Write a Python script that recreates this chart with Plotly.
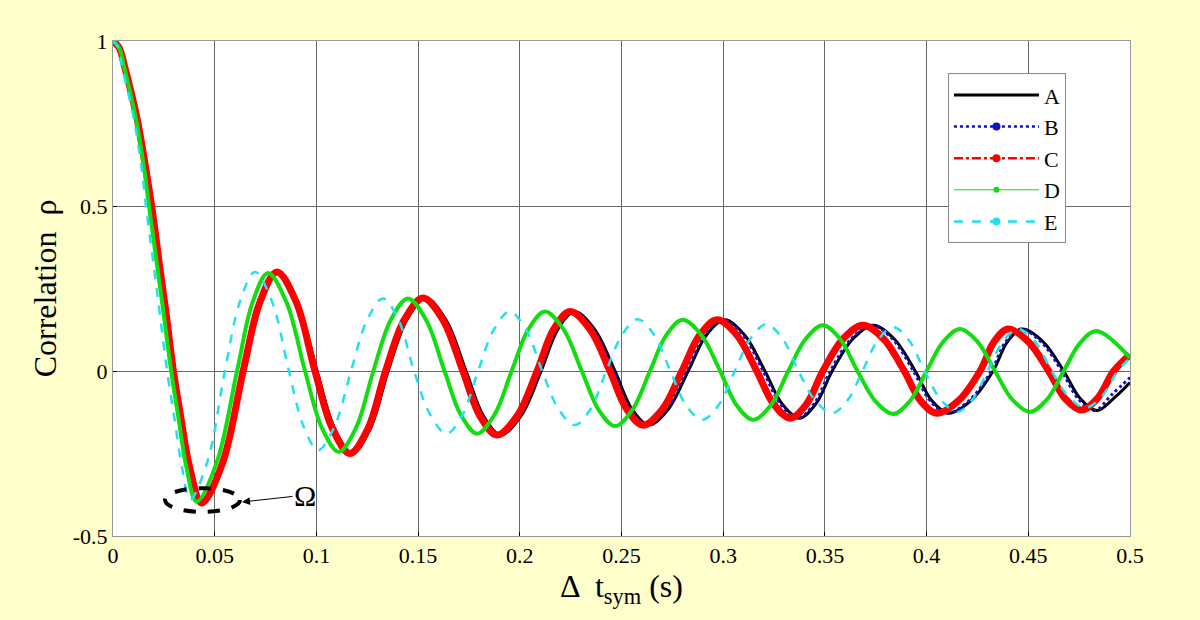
import plotly.graph_objects as go

# ---------------- data ----------------
x_C = [0, 0.003, 0.0059, 0.0118, 0.0162, 0.019, 0.0231, 0.0264, 0.0297, 0.0334, 0.0378,
       0.0436, 0.0538, 0.064, 0.0723, 0.0806, 0.09, 0.0993, 0.1079, 0.1165, 0.1253, 0.134,
       0.1432, 0.1524, 0.1622, 0.172, 0.1804, 0.1888, 0.1987, 0.2085, 0.2166, 0.2247,
       0.2345, 0.2443, 0.2525, 0.2606, 0.2702, 0.2797, 0.2884, 0.297, 0.3068, 0.3165,
       0.3248, 0.333, 0.341, 0.349, 0.3589, 0.3687, 0.3789, 0.389, 0.397, 0.405, 0.4157,
       0.4263, 0.4332, 0.440, 0.45, 0.460, 0.468, 0.476, 0.484, 0.492, 0.5]
y_C = [1, 0.98, 0.918, 0.766, 0.61, 0.5, 0.31, 0.16, 0, -0.143, -0.295,
       -0.40, -0.28, 0, 0.21, 0.30, 0.21, 0, -0.175, -0.25, -0.175, 0,
       0.155, 0.221, 0.155, 0, -0.136, -0.194, -0.136, 0, 0.126, 0.18,
       0.126, 0, -0.115, -0.164, -0.115, 0, 0.1085, 0.155, 0.1085, 0,
       -0.10, -0.143, -0.10, 0, 0.097, 0.139, 0.097, 0, -0.09, -0.128, -0.09,
       0, 0.089, 0.127, 0.089, 0, -0.083, -0.118, -0.083, 0, 0.05]

x_B = [0, 0.003, 0.0059, 0.0118, 0.0162, 0.019, 0.0231, 0.0264, 0.0297, 0.0334, 0.0378,
       0.0436, 0.0538, 0.064, 0.0726, 0.0811, 0.0905, 0.1003, 0.1089, 0.1175, 0.1263, 0.135,
       0.1442, 0.1534, 0.1634, 0.1732, 0.1817, 0.1902, 0.2001, 0.21, 0.2182, 0.2263,
       0.2362, 0.2462, 0.2545, 0.2627, 0.2724, 0.282, 0.2909, 0.2998, 0.3097, 0.3196,
       0.3281, 0.3365, 0.3446, 0.3527, 0.3628, 0.3729, 0.3832, 0.3935, 0.4017, 0.41, 0.4209,
       0.4318, 0.4389, 0.446, 0.4562, 0.4664, 0.4745, 0.4826, 0.4913, 0.5]
y_B = [1, 0.98, 0.918, 0.766, 0.61, 0.5, 0.31, 0.16, 0, -0.143, -0.295,
       -0.40, -0.28, 0, 0.21, 0.30, 0.21, 0, -0.175, -0.25, -0.175, 0,
       0.155, 0.221, 0.155, 0, -0.136, -0.194, -0.136, 0, 0.126, 0.18,
       0.126, 0, -0.115, -0.164, -0.115, 0, 0.1085, 0.155, 0.1085, 0,
       -0.10, -0.143, -0.10, 0, 0.097, 0.139, 0.097, 0, -0.09, -0.128, -0.09,
       0, 0.089, 0.127, 0.089, 0, -0.084, -0.12, -0.07, -0.02]

x_A = [0, 0.003, 0.0059, 0.0118, 0.0162, 0.019, 0.0231, 0.0264, 0.0297, 0.0334, 0.0378,
       0.0436, 0.0538, 0.064, 0.0726, 0.0811, 0.0905, 0.1003, 0.109, 0.1177, 0.1265, 0.1353,
       0.1445, 0.1537, 0.1637, 0.1736, 0.1821, 0.1906, 0.2006, 0.2105, 0.2187, 0.2268,
       0.2368, 0.2468, 0.2551, 0.2634, 0.2731, 0.2828, 0.2917, 0.3006, 0.3106, 0.3205,
       0.329, 0.3374, 0.3455, 0.3536, 0.3637, 0.3738, 0.3841, 0.3944, 0.4026, 0.4109, 0.4218,
       0.4327, 0.4398, 0.447, 0.4572, 0.4674, 0.4756, 0.4838, 0.4925, 0.5]
y_A = [1, 0.98, 0.918, 0.766, 0.61, 0.5, 0.31, 0.16, 0, -0.143, -0.295,
       -0.40, -0.28, 0, 0.21, 0.30, 0.21, 0, -0.175, -0.25, -0.175, 0,
       0.155, 0.221, 0.155, 0, -0.136, -0.194, -0.136, 0, 0.126, 0.18,
       0.126, 0, -0.115, -0.164, -0.115, 0, 0.1085, 0.155, 0.1085, 0,
       -0.10, -0.143, -0.10, 0, 0.097, 0.139, 0.097, 0, -0.09, -0.128, -0.09,
       0, 0.089, 0.127, 0.089, 0, -0.084, -0.12, -0.08, -0.035]

x_D = [0, 0.003, 0.0056, 0.0112, 0.0154, 0.0177, 0.0219, 0.0252, 0.0286, 0.0322, 0.0362,
       0.0411, 0.051, 0.061, 0.0686, 0.0762, 0.0853, 0.0944, 0.1027, 0.111, 0.1195, 0.128,
       0.1365, 0.145, 0.154, 0.163, 0.171, 0.179, 0.1875, 0.196, 0.2042, 0.2124, 0.2215,
       0.2305, 0.2387, 0.2468, 0.2554, 0.264, 0.272, 0.280, 0.2893, 0.2985, 0.3066, 0.3147,
       0.3234, 0.332, 0.3405, 0.349, 0.3575, 0.366, 0.3748, 0.3836, 0.3918, 0.4, 0.4082,
       0.4164, 0.425, 0.4336, 0.4422, 0.4508, 0.4591, 0.4674, 0.4755, 0.4835, 0.5]
y_D = [1, 0.98, 0.918, 0.766, 0.61, 0.5, 0.31, 0.16, 0, -0.143, -0.295,
       -0.396, -0.277, 0, 0.208, 0.297, 0.208, 0, -0.172, -0.245, -0.172, 0,
       0.154, 0.22, 0.154, 0, -0.133, -0.19, -0.133, 0, 0.126, 0.18, 0.126,
       0, -0.117, -0.167, -0.117, 0, 0.1085, 0.155, 0.1085, 0, -0.104, -0.148,
       -0.104, 0, 0.097, 0.139, 0.097, 0, -0.091, -0.13, -0.091, 0, 0.089,
       0.127, 0.089, 0, -0.087, -0.124, -0.087, 0, 0.085, 0.121, 0.04]

x_E = [0, 0.0025, 0.0046, 0.0102, 0.0142, 0.0162, 0.0202, 0.0233, 0.0266, 0.0302, 0.034,
       0.0379, 0.0465, 0.055, 0.0624, 0.0698, 0.0782, 0.0865, 0.0937, 0.1008, 0.1089, 0.117,
       0.1249, 0.1327, 0.1404, 0.148, 0.156, 0.164, 0.1718, 0.1795, 0.1873, 0.195, 0.203,
       0.211, 0.219, 0.227, 0.2348, 0.2425, 0.2503, 0.258, 0.266, 0.274, 0.2818, 0.2896,
       0.2977, 0.3057, 0.3135, 0.3212, 0.3291, 0.337, 0.3453, 0.3535, 0.361, 0.3685, 0.376,
       0.3835, 0.3913, 0.399, 0.407, 0.415, 0.4225, 0.43, 0.4375, 0.445, 0.4533, 0.4615,
       0.4698, 0.478, 0.486, 0.494, 0.5]
y_E = [1, 0.98, 0.918, 0.766, 0.61, 0.5, 0.31, 0.16, 0, -0.143, -0.295,
       -0.39, -0.273, 0, 0.21, 0.30, 0.21, 0, -0.168, -0.24, -0.168, 0,
       0.154, 0.22, 0.154, 0, -0.133, -0.19, -0.133, 0, 0.126, 0.18, 0.126,
       0, -0.115, -0.164, -0.115, 0, 0.11, 0.157, 0.11, 0, -0.104, -0.148,
       -0.104, 0, 0.099, 0.142, 0.099, 0, -0.09, -0.128, -0.09, 0, 0.093,
       0.133, 0.093, 0, -0.087, -0.124, -0.087, 0, 0.089, 0.127, 0.089, 0,
       -0.078, -0.112, -0.078, 0, 0.04]

names = ["A", "B", "C", "D", "E"]
x_ticks = [0, 0.05, 0.1, 0.15, 0.2, 0.25, 0.3, 0.35, 0.4, 0.45, 0.5]
x_tick_labels = ["0", "0.05", "0.1", "0.15", "0.2", "0.25", "0.3", "0.35", "0.4", "0.45", "0.5"]
y_ticks = [-0.5, 0, 0.5, 1]
y_tick_labels = ["-0.5", "0", "0.5", "1"]

# annotation region (ellipse around first minimum) and label
ellipse_x = [0.0256, 0.0624]
ellipse_y = [-0.427, -0.355]
omega_tip = (0.0634, -0.397)
omega_text = (0.0944, -0.376)

SERIF = "Liberation Serif"

fig = go.Figure()

data_styles = [
    (x_A, y_A, dict(color="black", width=3, dash="solid")),
    (x_B, y_B, dict(color="#1010d0", width=3, dash="dot")),
    (x_C, y_C, dict(color="#ff0000", width=7, dash="solid")),
    (x_D, y_D, dict(color="#11dd11", width=4, dash="solid")),
    (x_E, y_E, dict(color="#22e0ee", width=2.5, dash="dash")),
]
for (xs, ys, ln) in data_styles:
    fig.add_trace(go.Scatter(x=xs, y=ys, mode="lines", showlegend=False,
                             line=dict(shape="spline", smoothing=1.0, **ln),
                             hoverinfo="skip"))

legend_styles = [
    ("lines", dict(color="black", width=3, dash="solid"), None),
    ("lines+markers", dict(color="#1010d0", width=2.5, dash="dot"), dict(color="#1010d0", size=8)),
    ("lines+markers", dict(color="#ff0000", width=2.5, dash="dashdot"), dict(color="#ff0000", size=8)),
    ("lines+markers", dict(color="#11dd11", width=1, dash="solid"), dict(color="#11dd11", size=6)),
    ("lines+markers", dict(color="#22e0ee", width=2.5, dash="dash"), dict(color="#22e0ee", size=8)),
]
for name, (mode, ln, mk) in zip(names, legend_styles):
    kw = dict(x=[None], y=[None], mode=mode, name=name, line=ln, showlegend=True)
    if mk is not None:
        kw["marker"] = mk
    fig.add_trace(go.Scatter(**kw))

fig.add_shape(type="circle", xref="x", yref="y",
              x0=ellipse_x[0], x1=ellipse_x[1], y0=ellipse_y[0], y1=ellipse_y[1],
              line=dict(color="black", width=4, dash="dash"))
fig.add_annotation(x=omega_tip[0], y=omega_tip[1], ax=omega_text[0], ay=omega_text[1],
                   axref="x", ayref="y", xref="x", yref="y",
                   text="Ω", showarrow=True, arrowhead=2, arrowsize=1.6,
                   arrowwidth=1, arrowcolor="black",
                   font=dict(family=SERIF, size=30, color="black"))

axis_common = dict(showgrid=True, gridcolor="#666666", gridwidth=1,
                   showline=True, linecolor="#999999", linewidth=1, mirror=True,
                   ticks="inside", ticklen=4, tickcolor="black",
                   zeroline=False, automargin=False,
                   tickfont=dict(family=SERIF, size=22, color="black"))

fig.update_layout(
    width=1200, height=620,
    paper_bgcolor="#ffffcc", plot_bgcolor="white",
    margin=dict(l=113, r=70, t=41, b=84),
    font=dict(family=SERIF),
    xaxis=dict(range=[0, 0.5], tickvals=x_ticks, ticktext=x_tick_labels,
               title=dict(text="Δ  t<sub>sym</sub> (s)", standoff=0,
                          font=dict(family=SERIF, size=32, color="black")),
               **axis_common),
    yaxis=dict(range=[-0.5, 1], tickvals=y_ticks, ticktext=y_tick_labels,
               title=dict(text="Correlation  ρ", standoff=6,
                          font=dict(family=SERIF, size=32, color="black")),
               **axis_common),
    legend=dict(x=0.821, y=0.935, xanchor="left", yanchor="top",
                bgcolor="white", bordercolor="#888888", borderwidth=1,
                font=dict(family=SERIF, size=22, color="black"),
                itemwidth=85, tracegroupgap=0),
    showlegend=True,
)

fig.write_html("out.html", config={"displayModeBar": False},
               post_script="document.body.style.margin='0';document.body.style.padding='0';")
